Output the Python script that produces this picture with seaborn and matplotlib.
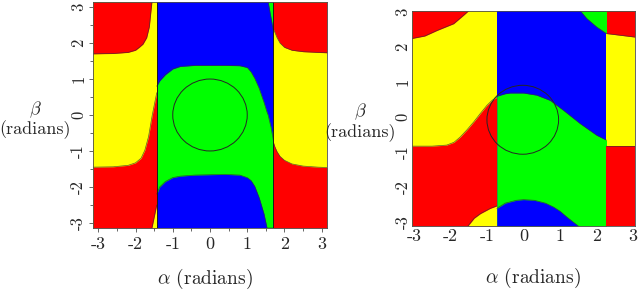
import numpy as np
import seaborn as sns
import matplotlib.pyplot as plt
from matplotlib.patches import Circle

sns.set_theme(style="white")
plt.rcParams['font.family'] = ['cmr10', 'DejaVu Serif']
plt.rcParams['mathtext.fontset'] = 'cm'
plt.rcParams['axes.unicode_minus'] = False
plt.rcParams['axes.formatter.use_mathtext'] = False

RED, YELLOW, GREEN, BLUE = '#ff0000', '#ffff00', '#00ff00', '#0000ff'
PI = np.pi

# ---- left panel data (alpha, beta in radians) ----
L_cols = [-1.43, 1.70]

L_tl_alpha = [-PI, -2.6, -2.2, -2.0, -1.9, -1.8, -1.7, -1.63, -1.56]
L_tl_low = [1.70, 1.71, 1.74, 1.80, 1.88, 1.97, 2.15, 2.45, PI]

L_bl_alpha = [-PI, -2.6, -2.2, -2.0, -1.85, -1.75, -1.65, -1.55, -1.43]
L_bl_high = [-1.45, -1.44, -1.40, -1.33, -1.20, -0.98, -0.60, 0.0, 0.62]

L_wedge_beta = [-PI, -2.5]
L_wedge_x = [-1.56, -1.43]

L_mid_alpha = [-1.43, -1.35, -1.2, -1.0, -0.8, -0.4, 0.0, 0.4, 0.8, 1.0, 1.1,
               1.2, 1.32, 1.45, 1.53, 1.56, 1.64, 1.70]
L_green_top = [0.80, 0.95, 1.12, 1.28, 1.35, 1.38, 1.38, 1.38, 1.37, 1.32, 1.20,
               1.02, 0.74, 0.35, 0.08, 0.0, -0.35, -0.70]
L_green_bot = [-2.2, -2.0, -1.85, -1.74, -1.70, -1.67, -1.66, -1.65, -1.67, -1.74, -1.82,
               -1.98, -2.30, -2.75, -PI, -PI, -PI, -PI]

L_gw_beta = [2.35, PI]
L_gw_x = [1.70, 1.56]

L_r_alpha = [1.70, 1.74, 1.8, 1.88, 2.0, 2.2, 2.5, 2.9, PI]
L_tr_low = [2.40, 2.30, 2.15, 2.00, 1.88, 1.80, 1.76, 1.74, 1.73]
L_br_high = [-0.75, -0.88, -1.02, -1.15, -1.26, -1.36, -1.42, -1.45, -1.46]

# ---- right panel data ----
R_xlim, R_ylim = (-3.05, 3.05), (-3.1, 3.02)
R_cols = [-0.73, 2.27]

R_tl_alpha = [-3.05, -2.7, -2.36, -1.91, -1.64, -1.5]
R_tl_low = [2.23, 2.30, 2.46, 2.65, 2.89, 3.02]

R_bl_alpha = [-3.05, -2.5, -2.1, -1.9, -1.73, -1.55, -1.36, -1.18, -1.0, -0.85, -0.73]
R_bl_high = [-0.83, -0.83, -0.80, -0.72, -0.57, -0.37, -0.14, 0.10, 0.33, 0.48, 0.56]

R_by_alpha = [-1.52, -1.35, -1.18, -0.91, -0.73]
R_by_high = [-3.1, -2.88, -2.75, -2.60, -2.53]

R_mid_alpha = [-0.73, -0.5, -0.36, 0.0, 0.36, 0.73, 1.09, 1.55, 2.0, 2.27]
R_green_top = [0.59, 0.66, 0.68, 0.68, 0.62, 0.47, 0.19, -0.19, -0.52, -0.66]

R_bb_alpha = [-0.73, -0.5, -0.2, 0.0, 0.3, 0.6, 0.82, 1.0, 1.18, 1.35, 1.5]
R_bb_high = [-2.60, -2.45, -2.37, -2.35, -2.37, -2.45, -2.56, -2.68, -2.84, -2.98, -3.1]

R_gw_alpha = [1.55, 1.73, 2.0, 2.27]
R_gw_low = [3.02, 2.80, 2.56, 2.37]

R_r_alpha = [2.27, 3.05]
R_tr_low = [2.37, 2.27]
R_br_high = [-0.82, -0.82]

circle_L = ((0.0, 0.0), 1.0)
circle_R = ((-0.02, -0.08), 0.98)

EDGE = dict(color='0.2', lw=0.5, alpha=0.8)


def band(ax, x, lo, hi, color, edge=True):
    ax.fill_between(x, lo, hi, color=color, lw=0)
    if edge:
        for y in (lo, hi):
            if np.ndim(y):
                ax.plot(x, y, **EDGE)


fig = plt.figure(figsize=(6.4, 3.07), dpi=100)
axL = fig.add_axes([93 / 640, 79 / 307, 234 / 640, 226 / 307])
axR = fig.add_axes([412 / 640, 81 / 307, 223 / 640, 215.3 / 307])

# left panel
bot, top = -PI, PI
band(axL, [-PI, L_cols[0]], bot, top, YELLOW, edge=False)
band(axL, [L_cols[0], L_cols[1]], bot, top, BLUE, edge=False)
band(axL, [L_cols[1], PI], bot, top, YELLOW, edge=False)
band(axL, L_tl_alpha, L_tl_low, top, RED)
band(axL, L_bl_alpha, bot, L_bl_high, RED)
axL.fill_betweenx(L_wedge_beta, L_wedge_x, L_cols[0], color=YELLOW, lw=0)
axL.plot(L_wedge_x, L_wedge_beta, **EDGE)
band(axL, L_mid_alpha, L_green_bot, L_green_top, GREEN)
axL.fill_betweenx(L_gw_beta, L_gw_x, L_cols[1], color=GREEN, lw=0)
axL.plot(L_gw_x, L_gw_beta, **EDGE)
band(axL, L_r_alpha, L_tr_low, top, RED)
band(axL, L_r_alpha, bot, L_br_high, RED)
for c in L_cols:
    axL.axvline(c, color='0.1', lw=0.7)
axL.add_patch(Circle(circle_L[0], circle_L[1], fill=False, ec='0.15', lw=0.7))
axL.set_xlim(-PI, PI)
axL.set_ylim(-PI, PI)
axL.set_xticks(range(-3, 4))
axL.set_yticks(range(-3, 4))
axL.set_xticks(np.arange(-3, 3.01, 0.5), minor=True)
axL.set_yticks(np.arange(-3, 3.01, 0.5), minor=True)
axL.tick_params(which='both', direction='out', length=3, width=0.6, color='0.3',
                bottom=True, left=True)
axL.tick_params(which='minor', length=2)

# right panel
bot, top = R_ylim
band(axR, [R_xlim[0], R_cols[0]], bot, top, YELLOW, edge=False)
band(axR, [R_cols[0], R_cols[1]], bot, top, BLUE, edge=False)
band(axR, [R_cols[1], R_xlim[1]], bot, top, YELLOW, edge=False)
band(axR, R_tl_alpha, R_tl_low, top, RED)
band(axR, R_bl_alpha, bot, R_bl_high, RED)
band(axR, R_by_alpha, bot, R_by_high, YELLOW)
band(axR, R_mid_alpha, bot, R_green_top, GREEN)
band(axR, R_bb_alpha, bot, R_bb_high, BLUE)
band(axR, R_gw_alpha, R_gw_low, top, GREEN)
band(axR, R_r_alpha, R_tr_low, top, RED)
band(axR, R_r_alpha, bot, R_br_high, RED)
axR.add_patch(Circle(circle_R[0], circle_R[1], fill=False, ec='0.15', lw=0.7))
axR.set_xlim(*R_xlim)
axR.set_ylim(*R_ylim)
axR.set_xticks(range(-3, 4))
axR.set_yticks(range(-3, 4))
axR.tick_params(length=0)

for ax, ylab_x, ylab_y, xlab_x, xlab_y, pad in ((axL, -0.248, 0.48, 0.479, -0.17, 2),
                                                (axR, -0.232, 0.485, 0.543, -0.185, 1)):
    ax.tick_params(axis='x', labelsize=13, pad=pad + 1)
    ax.tick_params(axis='y', labelsize=12, pad=pad)
    for lab in ax.get_yticklabels():
        lab.set_rotation(90)
        lab.set_va('center')
    ax.set_ylabel('$\\beta$\n(radians)', rotation=0, fontsize=13, ha='center', va='center',
                  linespacing=1.05)
    ax.yaxis.set_label_coords(ylab_x, ylab_y)
    ax.set_xlabel('$\\alpha$ (radians)', fontsize=14)
    ax.xaxis.set_label_coords(xlab_x, xlab_y)
    for s in ax.spines.values():
        s.set_linewidth(0.6)
        s.set_color('0.3')

fig.savefig('out.png', dpi=100)
